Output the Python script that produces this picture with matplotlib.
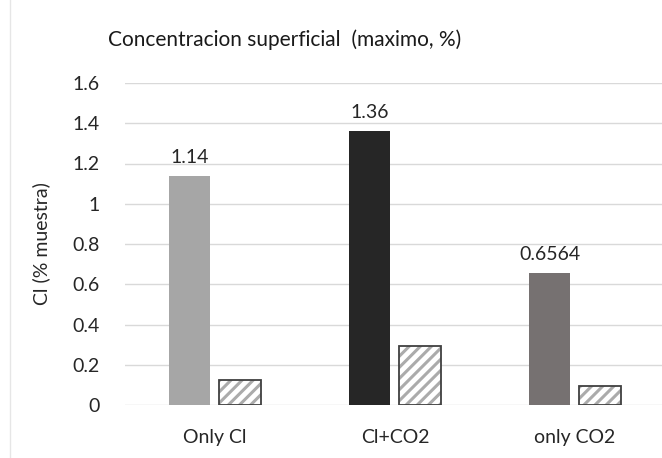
import matplotlib
matplotlib.use("Agg")
import matplotlib.pyplot as plt
import numpy as np

plt.rcParams['font.family'] = ['Lato', 'DejaVu Sans']
plt.rcParams['hatch.linewidth'] = 2.2

# data
categories = ['Only Cl', 'Cl+CO2', 'only CO2']
max_conc = [1.14, 1.36, 0.6564]
second = [0.125, 0.295, 0.095]
max_labels = ['1.14', '1.36', '0.6564']
solid_colors = ['#a6a6a6', '#262626', '#767171']
yticks = [0, 0.2, 0.4, 0.6, 0.8, 1.0, 1.2, 1.4, 1.6]
ytick_labels = ['0', '0.2', '0.4', '0.6', '0.8', '1', '1.2', '1.4', '1.6']

W, H = 662, 458
fig = plt.figure(figsize=(W / 100, H / 100), dpi=100)
ax = fig.add_axes([125 / W, 53 / H, 540 / W, 322 / H])

x = np.arange(len(categories))
bw = 0.232
off = 0.141

ax.bar(x - off, max_conc, bw, color=solid_colors, linewidth=0, zorder=3)
# hatched bars: gray hatch, then dark outline on top
ax.bar(x + off, second, bw, color='white', edgecolor='#ababab', linewidth=0,
       hatch='///', zorder=3)
ax.bar(x + off, second, bw, fill=False, edgecolor='#404040', linewidth=1.3, zorder=4)

for xi, v, lab in zip(x - off, max_conc, max_labels):
    ax.text(xi, v + 0.05, lab, ha='center', va='bottom', fontsize=14, color='#262626')

ax.set_xlim(-0.5, 2.5)
ax.set_ylim(0, 1.6)
ax.set_yticks(yticks)
ax.set_yticklabels(ytick_labels)
ax.set_xticks(x)
ax.set_xticklabels(categories)
ax.tick_params(length=0, labelsize=14, colors='#262626')
ax.tick_params(axis='y', pad=18)
ax.tick_params(axis='x', pad=17)
ax.grid(axis='y', color='#d9d9d9', linewidth=1, zorder=0)
for s in ax.spines.values():
    s.set_visible(False)

ax.set_ylabel('Cl (% muestra)', fontsize=14, color='#262626', labelpad=16)
fig.text(285 / W, 1 - 40 / H, 'Concentracion superficial  (maximo, %)',
         ha='center', va='center', fontsize=15, color='#1a1a1a')

# faint chart border at the left
fig.add_artist(plt.Line2D([10 / W, 10 / W], [0, 1], transform=fig.transFigure,
                          color='#e6e6e6', linewidth=1))

fig.savefig('out.png', dpi=100)
